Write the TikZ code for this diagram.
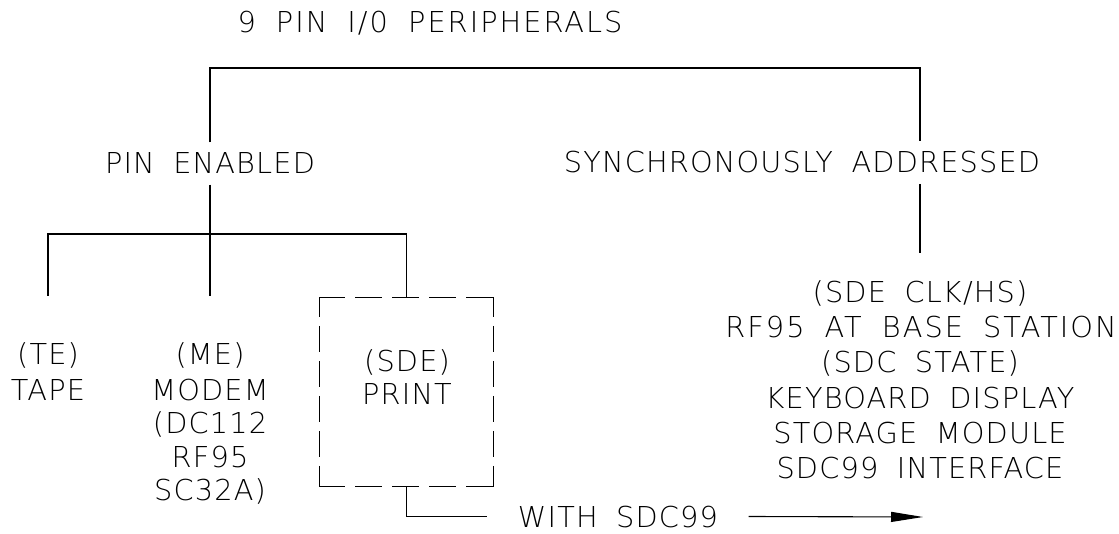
\documentclass[tikz,border=0pt]{standalone}
\usepackage{fontspec}
\setmainfont{DejaVu Sans ExtraLight}[LetterSpace=4,WordSpace=1.8]
\newfontfamily\cadwide{DejaVu Sans ExtraLight}[LetterSpace=7,WordSpace=1.8]
\usetikzlibrary{arrows.meta}
\begin{document}
\begin{tikzpicture}[x=1pt,y=-1pt,line width=1.1pt,
  lbl/.style={font=\fontsize{28.8}{34}\selectfont,inner sep=0pt,anchor=base},
  wlbl/.style={lbl,font=\fontsize{28.8}{34}\cadwide},
  capl/.style={lbl,text height=21pt,text depth=0pt},
  hdash/.style={dash pattern=on 27pt off 10pt,dash phase=1pt},
  vdash/.style={dash pattern=on 26pt off 9pt,dash phase=6.5pt}]
\useasboundingbox (0,0) rectangle (1119,534);
% texts
\node[wlbl] (title) at (430,33) {9 PIN I/0 PERIPHERALS};
\node[capl,inner ysep=10pt] (pe) at (210,174) {PIN ENABLED};
\node[lbl] (sa) at (802,173) {SYNCHRONOUSLY ADDRESSED};
\node[lbl] (te1) at (48,365) {(TE)};
\node[lbl] (te2) at (48,400) {TAPE};
\node[lbl] (me1) at (210,365) {(ME)};
\node[lbl] (me2) at (210,400) {MODEM};
\node[lbl] (me3) at (210,433) {(DC112};
\node[lbl] (me4) at (210,467) {RF95};
\node[lbl] (me5) at (210,500) {SC32A)};
\node[lbl] (sd1) at (407,372) {(SDE)};
\node[lbl] (sd2) at (407,405) {PRINT};
\node[lbl] (r1) at (920,303) {(SDE CLK/HS)};
\node[wlbl] (r2) at (921,338) {RF95 AT BASE STATION};
\node[lbl] (r3) at (920,373) {(SDC STATE)};
\node[lbl] (r4) at (920,408) {KEYBOARD DISPLAY};
\node[lbl] (r5) at (920,443) {STORAGE MODULE};
\node[lbl] (r6) at (920,478) {SDC99 INTERFACE};
\node[capl,inner xsep=30pt] (with) at (618,527) {WITH SDC99};
% box
\node[minimum width=173pt,minimum height=188pt,inner sep=0pt] (box) at (406.5,392) {};
\draw[hdash] (box.north west) -- (box.north east);
\draw[hdash] (box.south west) -- (box.south east);
\draw[vdash] (box.north west) -- (box.south west);
\draw[vdash] (box.north east) -- (box.south east);
% coordinates
\coordinate (barR) at (920,68);
\coordinate (saT) at (920,141);
\coordinate (saB) at (920,184);
\coordinate (rbT) at (920,253);
\coordinate (jn) at (210,234);
\coordinate (hL) at (48,234);
\coordinate (hR) at (406.5,234);
\coordinate (tapeT) at (48,296);
\coordinate (modemT) at (210,296);
\coordinate (tip) at (923,517);
% connectors
\draw (pe.north) -- (pe.north |- barR) -- (barR) -- (saT);
\draw (saB) -- (rbT);
\draw (pe.south) -- (jn);
\draw (tapeT) -- (hL) -- (hR) -- (box.north);
\draw (jn) -- (modemT);
\draw (box.south) |- (with.west);
\draw[-{Triangle[length=32pt,width=10pt]}] (with.east) -- (tip);
\end{tikzpicture}
\end{document}
